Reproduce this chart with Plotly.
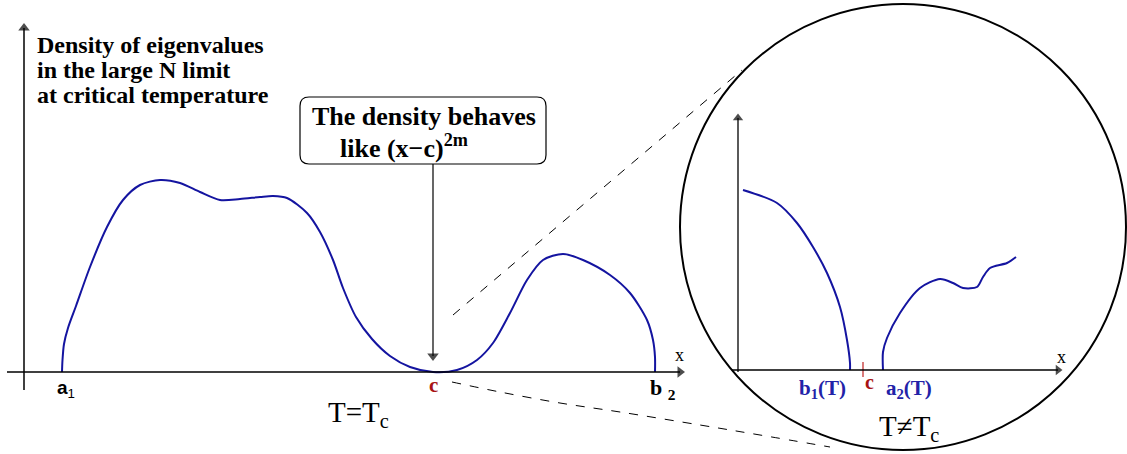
import plotly.graph_objects as go

# ---------------- data ----------------
# main panel: density at critical temperature (x position, density height)
main_x = [62, 62.5, 64, 68, 76, 90, 107, 123, 140, 160, 180, 200, 220, 240, 260, 273, 287,
          307, 320, 333, 343, 356, 372, 390, 410, 433, 457, 477, 493, 510, 527, 543, 563,
          583, 610, 630, 647, 653, 655, 655]
main_density = [0, 12, 28, 44, 66, 105, 145, 172, 187, 192, 189, 180, 172, 173, 175, 176, 174,
                159, 140, 112, 84, 55, 33, 16, 5, 0, 2, 12, 29, 59, 92, 112, 118,
                112, 97, 79, 52, 32, 15, 0]

# inset (zoom near c, T != Tc)
inset_left_x = [743, 777, 797, 813, 827, 840, 847, 850, 850]
inset_left_density = [180, 167, 147, 123, 97, 63, 30, 7, 0]
inset_right_x = [883, 883, 887, 900, 920, 940, 953, 963, 977, 983, 990, 1007, 1016]
inset_right_density = [0, 18, 32, 57, 82, 91, 87, 82, 83, 93, 102, 107, 113]

main_tick_labels = ["a", "c", "b"]
inset_tick_labels = ["b", "c", "a"]

# ---------------- layout helpers ----------------
W, H = 1127, 454
BASE = 372          # pixel row of the main x axis
INSET_BASE = 2      # inset axis sits 2 px above main axis


def py(p):
    return BASE - p


BLUE = "#1414a0"
LBLUE = "#2222a8"
RED = "#a81414"
SERIF = "Liberation Serif, Times New Roman, serif"
SANS = "Liberation Sans, Arial, sans-serif"

fig = go.Figure()

spl = dict(color=BLUE, width=2, shape="spline", smoothing=0.8)
fig.add_trace(go.Scatter(x=main_x, y=main_density, mode="lines", line=spl, hoverinfo="skip"))
fig.add_trace(go.Scatter(x=inset_left_x, y=[d + INSET_BASE for d in inset_left_density],
                         mode="lines", line=spl, hoverinfo="skip"))
fig.add_trace(go.Scatter(x=inset_right_x, y=[d + INSET_BASE for d in inset_right_density],
                         mode="lines", line=spl, hoverinfo="skip"))

# dashed link from c to the circle (lower, slightly curved)
link_x = [452, 500, 560, 620, 700, 760, 830]
link_y = [382, 392, 403, 412, 425, 435, 447]
fig.add_trace(go.Scatter(x=link_x, y=[py(v) for v in link_y], mode="lines",
                         line=dict(color="black", width=1, dash="dash", shape="spline"),
                         hoverinfo="skip"))

shapes = []
# upper dashed link
shapes.append(dict(type="line", x0=453, y0=py(315), x1=742, y1=py(70),
                   line=dict(color="black", width=1, dash="dash")))
# circle
shapes.append(dict(type="circle", x0=680, x1=1126, y0=py(450), y1=py(4),
                   line=dict(color="black", width=2)))
# red tick at c in inset
shapes.append(dict(type="line", x0=863, x1=863, y0=py(362), y1=py(377),
                   line=dict(color="#c02020", width=1.2)))
# rounded box
x0, x1, yt, yb, r = 300, 546, py(97), py(164), 9
path = (f"M {x0+r},{yt} L {x1-r},{yt} Q {x1},{yt} {x1},{yt-r} "
        f"L {x1},{yb+r} Q {x1},{yb} {x1-r},{yb} L {x0+r},{yb} "
        f"Q {x0},{yb} {x0},{yb+r} L {x0},{yt-r} Q {x0},{yt} {x0+r},{yt} Z")
shapes.append(dict(type="path", path=path, line=dict(color="black", width=1.2)))

# axes lines with arrowheads (line shape + triangle marker)
heads_x, heads_y, heads_sym = [], [], []


def arrow(xt, yt_, xs, ys, sym, w=1.5):
    shapes.append(dict(type="line", x0=xs, y0=py(ys), x1=xt, y1=py(yt_),
                       line=dict(color="black", width=w)))
    heads_x.append(xt)
    heads_y.append(py(yt_))
    heads_sym.append(sym)


arrow(24, 28, 24, 390, "triangle-up")          # main y axis
arrow(680, 372, 7, 372, "triangle-right")      # main x axis
arrow(433, 356, 433, 164, "triangle-down", 1.2)  # box pointer
arrow(738, 118, 738, 372, "triangle-up", 1.3)    # inset y axis
arrow(1058, 370, 732, 370, "triangle-right", 1.3)  # inset x axis

fig.add_trace(go.Scatter(x=heads_x, y=heads_y, mode="markers", hoverinfo="skip",
                         marker=dict(symbol=heads_sym, size=[10, 10, 10, 9, 9],
                                     color="black", line=dict(width=0))))

annotations = []


def text(x, y, s, size, color="black", family=SERIF, xanchor="center"):
    annotations.append(dict(x=x, y=py(y), text=s, showarrow=False, xref="x", yref="y",
                            xanchor=xanchor, yanchor="middle",
                            font=dict(family=family, size=size, color=color)))


text(35, 45, "<b>Density of eigenvalues</b>", 24, xanchor="left")
text(35, 70, "<b>in the large N limit</b>", 24, xanchor="left")
text(35, 95, "<b>at critical temperature</b>", 24, xanchor="left")

text(424, 116, "<b>The density behaves</b>", 26)
text(338, 146, "<b>like (x−c)<sup>2m</sup></b>", 26, xanchor="left")

text(66, 389, "<b>" + main_tick_labels[0] + "</b><sub>1</sub>", 19, family=SANS)
text(433, 385, "<b>" + main_tick_labels[1] + "</b>", 21, color=RED)
text(663, 389, "<b>" + main_tick_labels[2] + " </b><sub><b>2</b></sub>", 22, family=SERIF)
text(679, 355, "x", 18)
text(358, 414, "T=T<sub>c</sub>", 29)

text(822, 389, "<b>" + inset_tick_labels[0] + "<sub>1</sub>(T)</b>", 21, color=LBLUE)
text(869, 382, "<b>" + inset_tick_labels[1] + "</b>", 20, color=RED)
text(909, 389, "<b>" + inset_tick_labels[2] + "<sub>2</sub>(T)</b>", 21, color=LBLUE)
text(1061, 357, "x", 18)
text(909, 428, "T≠T<sub>c</sub>", 29)

fig.update_layout(
    width=W, height=H, margin=dict(l=0, r=0, t=0, b=0),
    paper_bgcolor="white", plot_bgcolor="white", showlegend=False,
    xaxis=dict(range=[0, W], visible=False, fixedrange=True),
    yaxis=dict(range=[py(H), py(0)], visible=False, fixedrange=True),
    shapes=shapes, annotations=annotations,
)

fig.write_html("out.html", config={"displayModeBar": False},
               post_script="document.body.style.margin='0';")
